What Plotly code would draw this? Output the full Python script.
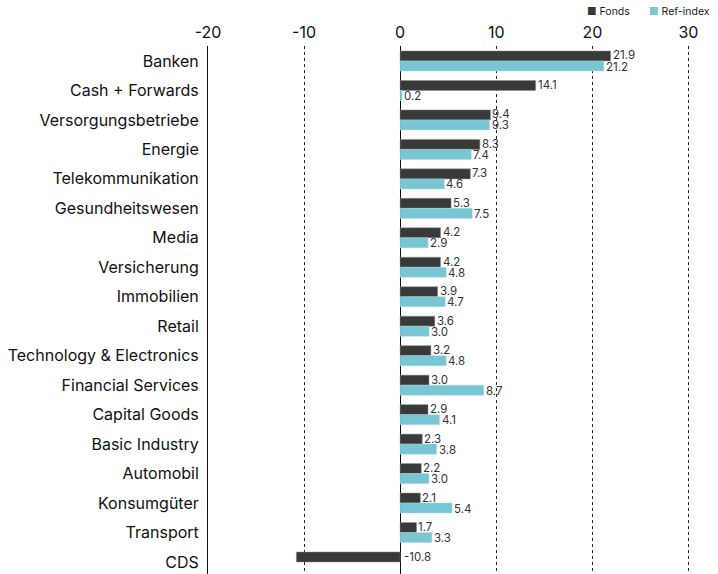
import numpy as np
import plotly.graph_objects as go

categories = ["Banken", "Cash + Forwards", "Versorgungsbetriebe", "Energie",
              "Telekommunikation", "Gesundheitswesen", "Media", "Versicherung",
              "Immobilien", "Retail", "Technology & Electronics", "Financial Services",
              "Capital Goods", "Basic Industry", "Automobil", "Konsumgüter",
              "Transport", "CDS"]
fonds = [21.9, 14.1, 9.4, 8.3, 7.3, 5.3, 4.2, 4.2, 3.9, 3.6, 3.2, 3.0, 2.9, 2.3, 2.2, 2.1, 1.7, -10.8]
ref_index = [21.2, 0.2, 9.3, 7.4, 4.6, 7.5, 2.9, 4.8, 4.7, 3.0, 4.8, 8.7, 4.1, 3.8, 3.0, 5.4, 3.3, None]
x_ticks = [-20, -10, 0, 10, 20, 30]
series_names = ["Fonds", "Ref-index"]

FONT = "Inter"
C_FONDS = "#383a39"
C_REF = "#78c5d4"
W = 0.34

idx = np.arange(len(categories))

fig = go.Figure()
fig.add_trace(go.Bar(
    name=series_names[0], y=idx, x=fonds, orientation="h", showlegend=False,
    offset=-W, width=W, marker=dict(color=C_FONDS, line=dict(color="#8a8a8a", width=0.5)),
))
fig.add_trace(go.Bar(
    name=series_names[1], y=idx, x=ref_index, orientation="h", showlegend=False,
    offset=0, width=W, marker=dict(color=C_REF, line=dict(color="#b0dde6", width=0.5)),
))

# value labels (right of bar end, or right of zero for negatives)
annos = []
for i, v in enumerate(fonds):
    annos.append(dict(x=max(v, 0), y=i - W / 2, text=f"{v:.1f}", showarrow=False,
                      xanchor="left", yanchor="middle", xshift=1 if v >= 0 else 3,
                      yshift=0.5))
for i, v in enumerate(ref_index):
    if v is None:
        continue
    annos.append(dict(x=max(v, 0), y=i + W / 2, text=f"{v:.1f}", showarrow=False,
                      xanchor="left", yanchor="middle", xshift=1, yshift=-0.5))
for a in annos:
    a.update(xref="x", yref="y", font=dict(family=FONT, size=11.5, color="#333333"),
             borderpad=0)

# compact legend
leg_font = dict(family=FONT, size=10.5, color="#222222")
annos.append(dict(xref="paper", yref="paper", x=0.866, y=1.0653, xanchor="right",
                  yanchor="middle", showarrow=False, font=leg_font,
                  text=f"<span style='color:{C_FONDS}'>■</span> {series_names[0]}"))
annos.append(dict(xref="paper", yref="paper", x=1.0294, y=1.0653, xanchor="right",
                  yanchor="middle", showarrow=False, font=leg_font,
                  text=f"<span style='color:{C_REF}'>■</span> {series_names[1]}"))

fig.update_layout(
    width=718, height=574,
    margin=dict(l=208, r=20.4, t=46, b=0, autoexpand=False),
    paper_bgcolor="white", plot_bgcolor="white",
    barmode="overlay",
    font=dict(family=FONT, color="#111111"),
    annotations=annos,
    showlegend=False,
)
fig.update_xaxes(
    side="top", range=[-20, 31], tickvals=x_ticks, ticktext=[str(t) for t in x_ticks],
    tickfont=dict(family=FONT, size=16, color="#111111"),
    showgrid=True, gridcolor="#222222", griddash="dot", gridwidth=1,
    zeroline=True, zerolinecolor="#111111", zerolinewidth=1,
    showline=False, ticks="", ticklabelstandoff=4,
)
fig.update_yaxes(
    range=[17.407, -0.509], tickvals=idx, ticktext=categories,
    tickfont=dict(family=FONT, size=16, color="#111111"),
    showgrid=False, zeroline=False, showline=True, linecolor="#111111", linewidth=1,
    ticks="", ticklabelstandoff=5,
)

fig.write_html("out.html", config={"displayModeBar": False},
               post_script="document.body.style.margin='0';")
